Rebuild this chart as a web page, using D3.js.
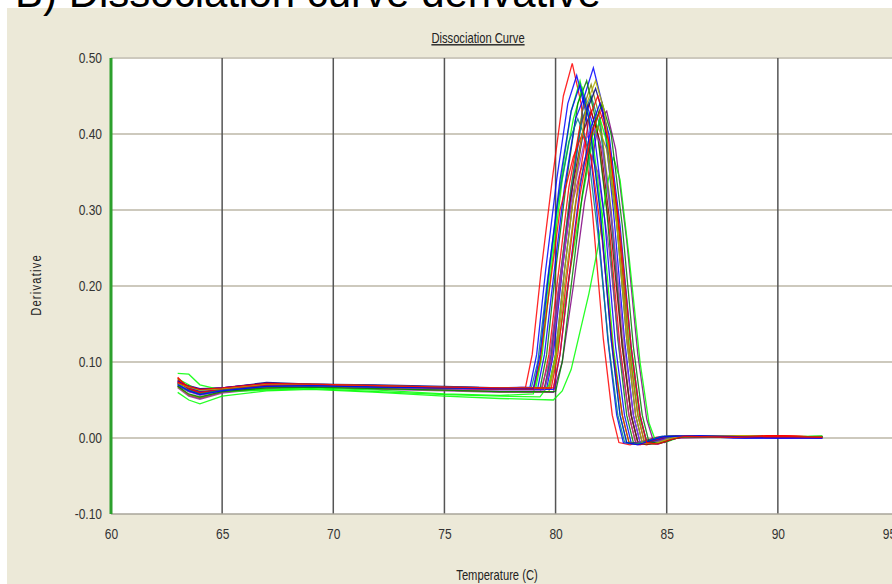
<!DOCTYPE html>
<html>
<head>
<meta charset="utf-8">
<script src="https://cdn.jsdelivr.net/npm/d3@7"></script>
<style>
  body { margin: 0; background: #fff; }
  svg text { font-family: "Liberation Sans", Arial, sans-serif; }
</style>
</head>
<body>
<div id="chart"></div>
<script>
// x ticks / y ticks
var tempTicks = [60, 65, 70, 75, 80, 85, 90, 95];
var derivTicks = [-0.10, 0.00, 0.10, 0.20, 0.30, 0.40, 0.50];

// shared low-temperature points, each well has its own values on them
var baseTemps = [63, 63.5, 64, 65, 67, 69, 72, 75, 77.5];

var wellColors = ['#ff0000', '#0000ff', '#0000ff', '#00ff00', '#808000', '#800080', '#ff0000',
  '#008080', '#008000', '#000080', '#800000', '#993399', '#00ff00', '#00ff00', '#0000ff',
  '#ff0000', '#999900', '#00ff00', '#0000ff', '#9933cc', '#ff0000', '#008080', '#008000',
  '#b3b300', '#0000ff', '#ff0000'];

var wellBase = [
  [.080,.065,.058,.064,.070,.069,.068,.065,.065],
  [.072,.068,.064,.066,.072,.071,.069,.067,.066],
  [.075,.066,.060,.063,.069,.070,.068,.066,.064],
  [.070,.062,.057,.062,.068,.069,.067,.066,.065],
  [.074,.065,.061,.064,.068,.070,.067,.066,.064],
  [.068,.056,.052,.060,.066,.068,.066,.063,.061],
  [.078,.067,.060,.063,.071,.070,.067,.066,.065],
  [.071,.067,.063,.065,.071,.070,.068,.067,.066],
  [.069,.061,.058,.063,.067,.069,.068,.066,.065],
  [.073,.069,.065,.066,.073,.071,.070,.068,.066],
  [.076,.064,.059,.062,.069,.069,.068,.065,.064],
  [.066,.055,.051,.059,.065,.067,.064,.062,.060],
  [.060,.050,.045,.055,.062,.064,.060,.055,.052],
  [.078,.070,.060,.061,.063,.065,.061,.057,.055],
  [.072,.068,.064,.066,.072,.071,.069,.067,.066],
  [.079,.066,.059,.064,.070,.070,.068,.066,.065],
  [.067,.057,.053,.061,.066,.068,.065,.063,.061],
  [.085,.084,.070,.063,.064,.066,.063,.058,.056],
  [.075,.066,.061,.063,.069,.070,.068,.066,.064],
  [.070,.061,.056,.062,.067,.068,.066,.064,.063],
  [.074,.065,.060,.064,.069,.070,.068,.066,.064],
  [.071,.063,.058,.063,.068,.069,.067,.066,.065],
  [.068,.058,.054,.061,.066,.067,.065,.063,.061],
  [.072,.067,.063,.065,.071,.071,.069,.067,.066],
  [.070,.062,.057,.062,.068,.069,.067,.066,.065],
  [.073,.068,.064,.066,.072,.071,.069,.067,.066]
];

// melt peak and tail, [temperature, derivative]
var wellMelt = [
  [[78.65,.067],[78.95,.11],[79.35,.22],[79.85,.34],[80.35,.45],[80.75,.493],[81.15,.44],[81.65,.30],[82.15,.13],[82.55,.03],[82.85,-.006],[83.35,-.009],[83.95,-.004],[84.55,.001],[86,.002],[88,.001],[90,.003],[92,.001]],
  [[78.85,.067],[79.15,.11],[79.55,.22],[80.05,.34],[80.55,.44],[80.95,.477],[81.35,.43],[81.85,.30],[82.35,.13],[82.75,.03],[83.05,-.006],[83.55,-.008],[84.15,-.003],[84.75,.002],[86,.003],[88,.000],[90,.001],[92,.001]],
  [[79.6,.065],[79.9,.11],[80.3,.22],[80.8,.34],[81.3,.45],[81.7,.487],[82.1,.44],[82.6,.30],[83.1,.13],[83.5,.03],[83.8,-.006],[84.3,-.008],[84.9,-.002],[85.5,.002],[88,.001],[90,.000],[92,.001]],
  [[79.1,.064],[79.4,.11],[79.8,.22],[80.3,.34],[80.8,.42],[81.2,.46],[81.6,.41],[82.1,.29],[82.6,.12],[83.0,.03],[83.3,-.005],[83.8,-.008],[84.4,-.003],[85.0,.002],[87,.002],[89,.001],[91,.002],[92,.002]],
  [[79.5,.064],[79.8,.11],[80.2,.21],[80.7,.33],[81.2,.43],[81.6,.465],[82.0,.42],[82.5,.30],[83.0,.13],[83.4,.03],[83.7,-.005],[84.2,-.008],[84.8,-.003],[85.4,.002],[87.5,.001],[89.5,.002],[92,.001]],
  [[79.9,.060],[80.3,.10],[80.8,.20],[81.3,.31],[81.85,.40],[82.0,.42],[82.3,.43],[82.7,.38],[83.2,.26],[83.7,.11],[84.1,.025],[84.4,-.004],[84.9,-.006],[85.4,.000],[87,.001],[89,.001],[92,.000]],
  [[79.4,.065],[79.7,.11],[80.1,.21],[80.6,.33],[81.1,.41],[81.5,.44],[81.9,.40],[82.4,.28],[82.9,.12],[83.3,.03],[83.6,-.006],[84.1,-.009],[84.7,-.003],[85.3,.002],[87.5,.002],[90,.003],[92,.001]],
  [[79.5,.066],[79.8,.11],[80.2,.21],[80.7,.33],[81.2,.42],[81.6,.45],[82.0,.41],[82.5,.29],[83.0,.12],[83.4,.03],[83.7,-.005],[84.2,-.008],[84.8,-.002],[85.4,.002],[88,.001],[90,.001],[92,.001]],
  [[79.3,.065],[79.6,.11],[80.0,.22],[80.5,.34],[81.0,.44],[81.4,.47],[81.8,.42],[82.3,.30],[82.8,.13],[83.2,.03],[83.5,-.006],[84.0,-.008],[84.6,-.003],[85.2,.002],[87,.001],[89,.002],[92,.001]],
  [[79.7,.066],[80.0,.11],[80.4,.22],[80.9,.34],[81.4,.43],[81.8,.46],[82.2,.42],[82.7,.30],[83.2,.13],[83.6,.03],[83.9,-.006],[84.4,-.008],[85.0,-.002],[85.6,.002],[88,.002],[90.5,.001],[92,.000]],
  [[79.5,.064],[79.8,.10],[80.2,.20],[80.7,.32],[81.2,.40],[81.6,.43],[82.0,.39],[82.5,.27],[83.0,.12],[83.4,.03],[83.7,-.006],[84.2,-.008],[84.8,-.003],[85.4,.002],[87,.001],[89.5,.001],[92,.001]],
  [[79.3,.060],[79.7,.10],[80.1,.19],[80.6,.29],[81.1,.35],[81.5,.38],[81.9,.35],[82.4,.25],[82.9,.11],[83.3,.03],[83.6,-.005],[84.1,-.007],[84.7,-.002],[85.3,.002],[88,.001],[90,.002],[92,.001]],
  [[79.9,.050],[80.3,.062],[80.7,.09],[81.1,.14],[81.5,.19],[81.9,.25],[82.3,.33],[82.6,.37],[82.9,.34],[83.3,.24],[83.8,.10],[84.2,.02],[84.5,-.004],[85.0,-.005],[85.6,.001],[88,.002],[90,.001],[92,.002]],
  [[79.3,.054],[79.7,.07],[80.1,.12],[80.6,.21],[81.1,.30],[81.6,.38],[82.0,.42],[82.4,.38],[82.9,.26],[83.4,.11],[83.8,.025],[84.1,-.004],[84.6,-.007],[85.2,.001],[87,.002],[89,.001],[92,.002]],
  [[79.2,.066],[79.5,.11],[79.9,.21],[80.4,.33],[80.9,.42],[81.3,.45],[81.7,.41],[82.2,.29],[82.7,.12],[83.1,.03],[83.4,-.006],[83.9,-.008],[84.5,-.003],[85.1,.002],[86.5,.003],[88.5,.000],[91,.001],[92,.001]],
  [[79.8,.065],[80.1,.11],[80.5,.21],[81.0,.33],[81.5,.42],[81.9,.45],[82.3,.41],[82.8,.29],[83.3,.12],[83.7,.03],[84.0,-.006],[84.5,-.008],[85.1,-.002],[85.7,.002],[88,.001],[90,.003],[92,.001]],
  [[79.7,.061],[80.0,.10],[80.4,.20],[80.9,.31],[81.5,.39],[81.9,.41],[82.3,.38],[82.8,.27],[83.3,.12],[83.7,.03],[84.0,-.005],[84.5,-.007],[85.1,-.002],[85.7,.002],[88.5,.002],[90,.001],[92,.001]],
  [[79.0,.058],[79.3,.10],[79.7,.21],[80.2,.33],[80.7,.43],[81.1,.47],[81.5,.42],[82.0,.30],[82.5,.13],[82.9,.03],[83.2,-.006],[83.7,-.008],[84.3,-.003],[84.9,.002],[87,.002],[89,.001],[92,.002]],
  [[79.9,.064],[80.2,.11],[80.6,.21],[81.1,.33],[81.6,.41],[82.0,.44],[82.4,.40],[82.9,.28],[83.4,.12],[83.8,.03],[84.1,-.006],[84.6,-.008],[85.2,-.002],[85.8,.002],[88,.001],[90.5,.000],[92,.001]],
  [[79.5,.063],[79.8,.10],[80.2,.20],[80.7,.31],[81.3,.39],[81.7,.41],[82.1,.38],[82.6,.27],[83.1,.12],[83.5,.03],[83.8,-.005],[84.3,-.007],[84.9,-.002],[85.5,.002],[88,.001],[90,.001],[92,.000]],
  [[79.0,.064],[79.3,.10],[79.7,.19],[80.2,.30],[80.8,.37],[81.2,.40],[81.6,.37],[82.1,.26],[82.6,.11],[83.0,.03],[83.3,-.006],[83.8,-.009],[84.4,-.003],[85.0,.002],[87.5,.002],[89.5,.003],[92,.001]],
  [[78.9,.065],[79.2,.10],[79.6,.20],[80.1,.31],[80.6,.39],[81.0,.42],[81.4,.39],[81.9,.27],[82.4,.12],[82.8,.03],[83.1,-.005],[83.6,-.008],[84.2,-.003],[84.8,.002],[87,.001],[89,.002],[92,.001]],
  [[80.0,.061],[80.3,.10],[80.7,.20],[81.2,.32],[81.7,.41],[82.1,.44],[82.5,.40],[83.0,.28],[83.5,.12],[83.9,.03],[84.2,-.005],[84.7,-.007],[85.3,-.001],[85.9,.002],[88,.002],[90,.001],[92,.002]],
  [[79.7,.066],[80.0,.11],[80.4,.22],[80.9,.34],[81.4,.44],[81.8,.47],[82.2,.43],[82.7,.30],[83.2,.13],[83.6,.03],[83.9,-.006],[84.4,-.008],[85.0,-.002],[85.6,.002],[88.5,.003],[90,.001],[92,.001]],
  [[79.0,.065],[79.3,.11],[79.7,.22],[80.2,.34],[80.7,.43],[81.1,.465],[81.5,.42],[82.0,.30],[82.5,.13],[82.9,.03],[83.2,-.006],[83.7,-.009],[84.3,-.003],[84.9,.002],[86.5,.003],[89,.001],[92,.000]],
  [[79.9,.066],[80.2,.11],[80.6,.21],[81.1,.32],[81.6,.40],[82.0,.43],[82.4,.39],[82.9,.27],[83.4,.12],[83.8,.03],[84.1,-.006],[84.6,-.008],[85.2,-.002],[85.8,.002],[88,.001],[90,.002],[92,.001]]
];

var width = 892, height = 584;
var plotLeft = 111, plotRight = 889, plotTop = 58, plotBottom = 514;
var narrow = 0.8; // the labels use a condensed face

var x = d3.scaleLinear().domain([60, 95]).range([plotLeft, plotRight]);
var y = d3.scaleLinear().domain([-0.1, 0.5]).range([plotBottom, plotTop]);

var svg = d3.select('#chart').append('svg')
  .attr('width', width)
  .attr('height', height);

// beige panel
svg.append('rect')
  .attr('x', 7).attr('y', 8)
  .attr('width', width - 7).attr('height', height - 8)
  .attr('fill', '#ece9d8');

// slide heading, mostly cut off at the top
svg.append('text')
  .attr('x', 15).attr('y', 7)
  .style('font-size', '42px')
  .attr('fill', '#000')
  .text('B) Dissociation curve derivative');

// plot background
svg.append('rect')
  .attr('x', plotLeft).attr('y', plotTop)
  .attr('width', width - plotLeft).attr('height', plotBottom - plotTop)
  .attr('fill', '#fff');

// horizontal grid
svg.append('g')
  .selectAll('line')
  .data(derivTicks.filter(function(d){ return d > -0.1; }))
  .enter().append('line')
  .attr('x1', plotLeft).attr('x2', width)
  .attr('y1', function(d){ return y(d); })
  .attr('y2', function(d){ return y(d); })
  .attr('stroke', '#cdc9bd')
  .attr('stroke-width', 2);

// vertical grid
svg.append('g')
  .selectAll('line')
  .data(tempTicks.filter(function(d){ return d > 60 && d < 95; }))
  .enter().append('line')
  .attr('x1', function(d){ return x(d); })
  .attr('x2', function(d){ return x(d); })
  .attr('y1', plotTop).attr('y2', plotBottom)
  .attr('stroke', '#555')
  .attr('stroke-width', 1.5);

// bottom edge
svg.append('line')
  .attr('x1', plotLeft).attr('x2', width)
  .attr('y1', plotBottom).attr('y2', plotBottom)
  .attr('stroke', '#a8a59a')
  .attr('stroke-width', 1.5);

// curves
var line = d3.line()
  .x(function(d){ return x(d[0]); })
  .y(function(d){ return y(d[1]); });

var wells = wellMelt.map(function(melt, i){
  var pts = baseTemps.map(function(t, j){ return [t, wellBase[i][j]]; });
  return { color: wellColors[i], points: pts.concat(melt) };
});

svg.append('g')
  .selectAll('path')
  .data(wells)
  .enter().append('path')
  .attr('d', function(d){ return line(d.points); })
  .attr('fill', 'none')
  .attr('stroke', function(d){ return d.color; })
  .attr('stroke-width', 1.3)
  .attr('stroke-opacity', 0.85);

// green left axis
svg.append('line')
  .attr('x1', plotLeft).attr('x2', plotLeft)
  .attr('y1', plotTop).attr('y2', plotBottom)
  .attr('stroke', '#2ca02c')
  .attr('stroke-width', 3);

// y tick labels
var yAxis = svg.append('g')
  .attr('transform', 'translate(' + (plotLeft - 9) + ',0)')
  .call(d3.axisLeft(y).tickValues(derivTicks)
    .tickFormat(function(d){ return d.toFixed(2); })
    .tickSize(0).tickPadding(0));
yAxis.select('.domain').remove();
yAxis.selectAll('text')
  .attr('fill', '#333')
  .style('font-size', '15px')
  .attr('transform', 'scale(' + narrow + ',1)');

// x tick labels
var xAxis = svg.append('g')
  .attr('transform', 'translate(0,' + plotBottom + ')')
  .call(d3.axisBottom(x).tickValues(tempTicks).tickFormat(d3.format('d')).tickSize(0).tickPadding(14));
xAxis.select('.domain').remove();
xAxis.selectAll('text')
  .attr('fill', '#333')
  .style('font-size', '15px')
  .attr('transform', 'scale(' + narrow + ',1)');

// titles
svg.append('text')
  .attr('transform', 'translate(478,43) scale(' + narrow + ',1)')
  .attr('text-anchor', 'middle')
  .attr('fill', '#222')
  .style('font-size', '14px')
  .style('text-decoration', 'underline')
  .text('Dissociation Curve');

svg.append('text')
  .attr('transform', 'translate(497,580) scale(' + narrow + ',1)')
  .attr('text-anchor', 'middle')
  .attr('fill', '#222')
  .style('font-size', '14px')
  .text('Temperature (C)');

svg.append('text')
  .attr('transform', 'translate(41,285) rotate(-90) scale(' + narrow + ',1)')
  .attr('text-anchor', 'middle')
  .attr('fill', '#222')
  .style('font-size', '14px')
  .style('letter-spacing', '1.5px')
  .text('Derivative');
</script>
</body>
</html>
